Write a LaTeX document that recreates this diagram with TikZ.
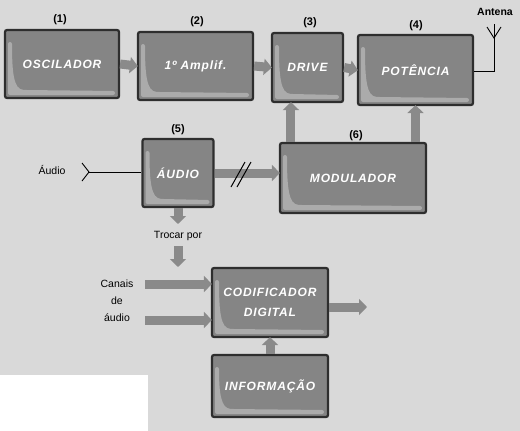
\documentclass[tikz,border=0pt]{standalone}
\usepackage{fontspec}
\setmainfont{Liberation Sans}
\newfontfamily\boxfont[LetterSpace=7]{Liberation Sans}
\usetikzlibrary{arrows.meta,calc}
\definecolor{bg}{HTML}{D9D9D9}
\definecolor{boxfill}{HTML}{858585}
\definecolor{boxedge}{HTML}{2E2E2E}
\definecolor{arr}{HTML}{8A8A8A}
\definecolor{glowc}{HTML}{B8B8B8}
\tikzset{
  blk/.style={draw=boxedge, line width=2.2pt, fill=boxfill, rounded corners=2pt,
    inner sep=0pt, text=white, align=center,
    font=\boxfont\bfseries\itshape\fontsize{12}{20}\selectfont,
    path picture={
      \fill[glowc, opacity=0.75]
        ([shift={(3pt,-12pt)}]path picture bounding box.north west)
        -- ([shift={(3pt,3pt)}]path picture bounding box.south west)
        -- ([shift={(-4pt,3pt)}]path picture bounding box.south east)
        -- ([shift={(-4pt,7pt)}]path picture bounding box.south east)
        -- ([shift={(20pt,8pt)}]path picture bounding box.south west)
        .. controls ([shift={(9pt,9pt)}]path picture bounding box.south west)
        and ([shift={(7pt,24pt)}]path picture bounding box.south west)
        .. ([shift={(7pt,-12pt)}]path picture bounding box.north west) -- cycle;
    }},
  fat/.style={draw=arr, line width=9pt, -{Triangle[length=8pt,width=16pt]}, shorten >=-1pt},
  num/.style={font=\bfseries\fontsize{11}{13}\selectfont},
  lbl/.style={font=\fontsize{10.5}{13}\selectfont, align=center},
}
\begin{document}
\begin{tikzpicture}[x=1pt,y=-1pt]
\fill[bg] (0,0) rectangle (520,431);
\useasboundingbox (0,0) rectangle (520,431);
\fill[white] (0,375) rectangle (148,431);

% blocks
\node[blk, minimum width=114pt, minimum height=68pt] (osc) at (62,64) {OSCILADOR};
\node[blk, minimum width=115pt, minimum height=68pt] (amp) at (195.5,66) {1º Amplif.};
\node[blk, minimum width=71pt, minimum height=69pt] (drv) at (307.5,67.5) {DRIVE};
\node[blk, minimum width=115pt, minimum height=70pt] (pot) at (415.5,70) {POTÊNCIA};
\node[blk, minimum width=71pt, minimum height=68pt] (aud) at (178,173) {ÁUDIO};
\node[blk, minimum width=146pt, minimum height=70pt] (mod) at (353,178) {MODULADOR};
\node[blk, minimum width=116pt, minimum height=69pt] (cod) at (270,302.5) {CODIFICADOR\\DIGITAL};
\node[blk, minimum width=116pt, minimum height=62pt] (inf) at (270,386) {INFORMAÇÃO};

% numbers
\node[num] (n1) at (60,20) {(1)};
\node[num] (n2) at (197,22) {(2)};
\node[num] (n3) at (310,23) {(3)};
\node[num] (n4) at (416,26) {(4)};
\node[num] (n5) at (178,130) {(5)};
\node[num] (n6) at (356,136) {(6)};

% main chain
\draw[fat] (osc.east) -- (amp.west);
\draw[fat] (amp.east) -- (drv.west);
\draw[fat] (drv.east) -- (pot.west);
\draw[fat] ([xshift=12pt]mod.north west) -- ([xshift=12pt]mod.north west |- drv.south);
\draw[fat] (mod.north -| pot.south) -- (pot.south);
\draw[fat] (aud.east) -- (aud.east -| mod.west);
\coordinate (s1a) at (231,187); \coordinate (s1b) at (245,162);
\coordinate (s2a) at (237,187); \coordinate (s2b) at (251,162);
\draw[black, line width=1pt] (s1a) -- (s1b);
\draw[black, line width=1pt] (s2a) -- (s2b);

% antenna
\coordinate (antc) at (494,71);
\coordinate (antf) at (494,38);
\coordinate (antl) at (487,27);
\coordinate (antr) at (501,27);
\node[font=\bfseries\fontsize{10.5}{12}\selectfont] (antlbl) at (495,12) {Antena};
\draw[black, line width=0.9pt] (pot.east |- antc) -- (antc) -- (antf);
\draw[black, line width=0.9pt] (antl) -- (antf) -- (antr);
\draw[black, line width=0.9pt] (antf) -- ++(0,-14);

% audio input
\node[lbl] (audlbl) at (52,170) {Áudio};
\coordinate (inA) at (82,163);
\coordinate (inB) at (89,172);
\coordinate (inC) at (82,181);
\draw[black, line width=0.9pt] (inA) -- (inB) -- (inC);
\draw[black, line width=0.9pt] (inB) -- (aud.west |- inB);

% trocar por
\coordinate (tA) at (178,223);
\node[lbl] (troc) at (178,236) {Trocar por};
\coordinate (tB) at (178,266);
\draw[fat] (aud.south) -- (tA);
\draw[fat] ([yshift=-2pt]troc.south) -- (tB);

% canais
\node[lbl, font=\fontsize{10.5}{17}\selectfont] (can) at (117,301) {Canais\\de\\áudio};
\coordinate (c1) at (145,284);
\coordinate (c2) at (145,320);
\draw[fat] (c1) -- (c1 -| cod.west);
\draw[fat] (c2) -- (c2 -| cod.west);
\coordinate (cout) at (366,307);
\draw[fat] (cod.east |- cout) -- (cout);
\draw[fat] (inf.north) -- (cod.south);
\end{tikzpicture}
\end{document}
